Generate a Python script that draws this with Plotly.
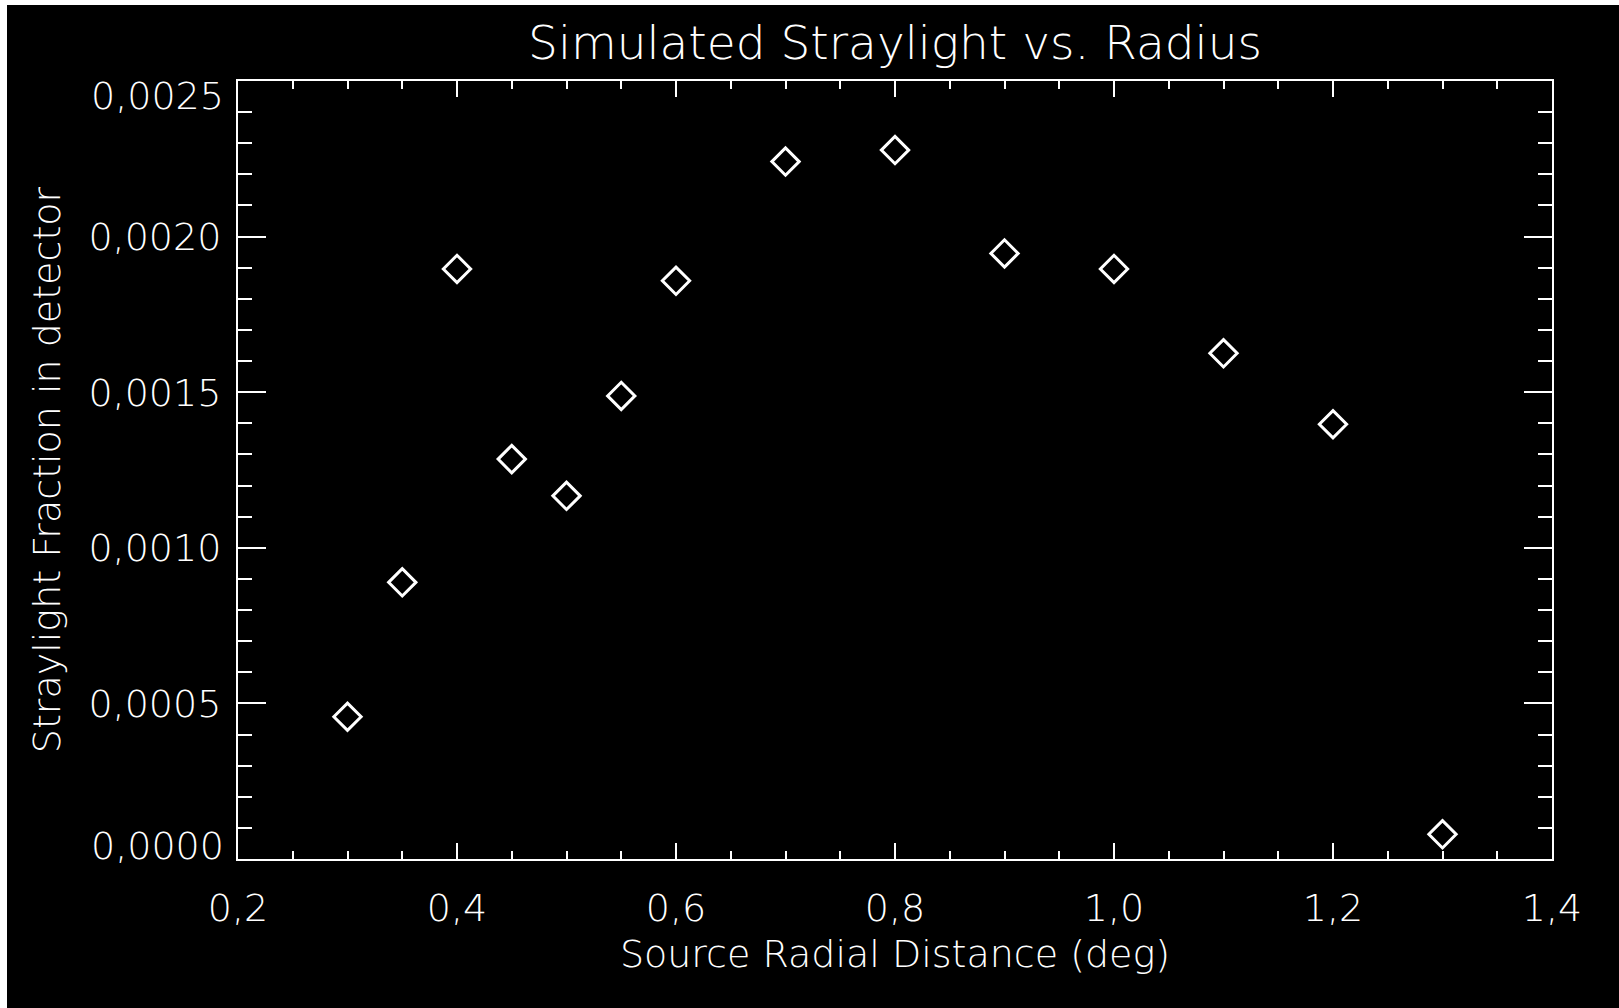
import plotly.graph_objects as go

# Data
radius_deg = [0.30, 0.35, 0.40, 0.45, 0.50, 0.55, 0.60, 0.70, 0.80, 0.90, 1.00, 1.10, 1.20, 1.30]
stray_frac = [0.000457, 0.000889, 0.001896, 0.001285, 0.001167, 0.001488, 0.001858,
              0.002241, 0.002278, 0.001946, 0.001896, 0.001625, 0.001397, 0.0000794]

x_ticks = [0.2, 0.4, 0.6, 0.8, 1.0, 1.2, 1.4]
y_ticks = [0.0, 0.0005, 0.0010, 0.0015, 0.0020, 0.0025]

title_text = "Simulated Straylight vs. Radius"
x_title = "Source Radial Distance (deg)"
y_title = "Straylight Fraction in detector"

W, H = 1619, 1008
ML, MR, MT, MB = 238, 67, 81, 149
PW, PH = W - ML - MR, H - MT - MB

FONT = "DejaVu Sans"
FS = 38
FG = "white"
WT = 200

def fnt(size=FS):
    return dict(family=FONT, size=size, color=FG, weight=WT)

def fmt(v, nd):
    return f"{v:.{nd}f}".replace(".", ",")

fig = go.Figure()
fig.add_trace(go.Scatter(
    x=radius_deg, y=stray_frac, mode="markers",
    marker=dict(symbol="diamond-open", size=21, color=FG, line=dict(width=3, color=FG)),
    showlegend=False,
))

# y tick labels: interior ones via axis, end ones shifted inward like the original
y_text = [fmt(v, 4) for v in y_ticks]
y_text_axis = ["" if i in (0, len(y_ticks) - 1) else t for i, t in enumerate(y_text)]

fig.update_layout(
    width=W, height=H,
    margin=dict(l=ML, r=MR, t=MT, b=MB, pad=0),
    paper_bgcolor="white",
    plot_bgcolor="black",
    font=fnt(),
    title=dict(text=title_text, x=(ML + PW / 2) / W, xanchor="center",
               y=1 - 43 / H, yanchor="middle", font=fnt(47)),
    xaxis=dict(range=[0.2, 1.4], tickvals=x_ticks, ticktext=[fmt(v, 1) for v in x_ticks],
               ticks="inside", ticklen=16, tickwidth=2, tickcolor=FG,
               minor=dict(dtick=0.05, tick0=0.2, ticks="inside", ticklen=8, tickwidth=2, tickcolor=FG),
               showline=True, linecolor=FG, linewidth=2, mirror="ticks",
               showgrid=False, zeroline=False,
               tickfont=fnt(), ticklabelstandoff=14,
               title=dict(text=x_title, standoff=12, font=fnt())),
    yaxis=dict(range=[0, 0.0025], tickvals=y_ticks, ticktext=y_text_axis,
               ticks="inside", ticklen=28, tickwidth=2, tickcolor=FG,
               minor=dict(dtick=0.0001, tick0=0, ticks="inside", ticklen=14, tickwidth=2, tickcolor=FG),
               showline=True, linecolor=FG, linewidth=2, mirror="ticks",
               showgrid=False, zeroline=False,
               tickfont=fnt(), ticklabelstandoff=7,
               title=dict(text=y_title, standoff=16, font=fnt())),
)

# end labels of the y axis, shifted inward
fig.add_annotation(x=0, xref="paper", xanchor="right", xshift=-12,
                   y=y_ticks[-1], yref="y", yanchor="middle", yshift=-15,
                   text=y_text[-1], showarrow=False, font=fnt())
fig.add_annotation(x=0, xref="paper", xanchor="right", xshift=-12,
                   y=y_ticks[0], yref="y", yanchor="middle", yshift=13,
                   text=y_text[0], showarrow=False, font=fnt())

# black canvas, offset from the top-left as in the original image
fig.add_shape(type="rect", xref="paper", yref="paper", layer="below",
              x0=(7 - ML) / PW, x1=(W - ML) / PW,
              y0=(MT + PH - H) / PH, y1=(MT + PH - 5) / PH,
              fillcolor="black", line=dict(width=0))

fig.write_html("out.html")
